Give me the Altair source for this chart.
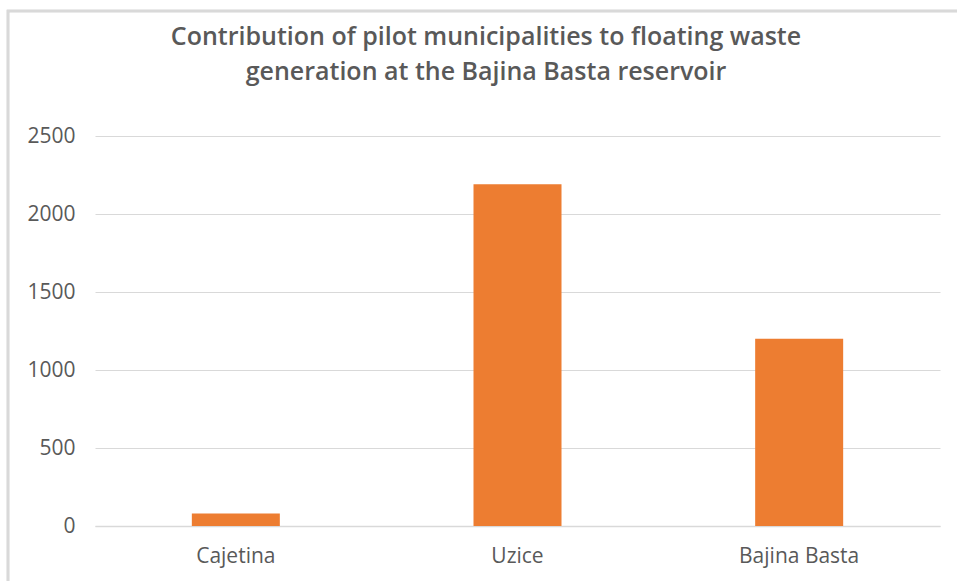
import altair as alt
import pandas as pd

categories = ["Cajetina", "Uzice", "Bajina Basta"]
values = [80, 2190, 1200]
title_lines = ["Contribution of pilot municipalities to floating waste",
               "generation at the Bajina Basta reservoir"]

df = pd.DataFrame({"municipality": categories, "waste": values})
tdf = pd.DataFrame({"line": title_lines, "order": [0, 1]})

FONT = "Open Sans"
GREY = "#595959"

bars = alt.Chart(df).mark_bar(color="#ED7D31", size=88).encode(
    x=alt.X("municipality:N", sort=categories, title=None,
            scale=alt.Scale(paddingInner=0, paddingOuter=0),
            axis=alt.Axis(labelAngle=0, labelFont=FONT, labelFontSize=21,
                          labelColor=GREY, labelPadding=19, ticks=False,
                          domain=True, domainColor="#D9D9D9", domainWidth=1.5,
                          grid=False)),
    y=alt.Y("waste:Q", title=None,
            scale=alt.Scale(domain=[0, 2500], nice=False),
            axis=alt.Axis(values=[0, 500, 1000, 1500, 2000, 2500], format="d",
                          labelFont=FONT, labelFontSize=21, labelColor=GREY,
                          labelPadding=20, ticks=False, domain=False,
                          gridColor="#D9D9D9", gridWidth=1.2)),
)

border = alt.Chart(df).mark_rect(fill=None, stroke="#D9D9D9", strokeWidth=2.5).encode(
    x=alt.value(-87), x2=alt.value(880),
    y=alt.value(-125), y2=alt.value(470),
)

title1 = alt.Chart(tdf).transform_filter("datum.order == 0").mark_text(
    font=FONT, fontSize=25, fontWeight=600, color=GREY, align="center", baseline="middle"
).encode(text="line:N", x=alt.value(391), y=alt.value(-99))

title2 = alt.Chart(tdf).transform_filter("datum.order == 1").mark_text(
    font=FONT, fontSize=25, fontWeight=600, color=GREY, align="center", baseline="middle"
).encode(text="line:N", x=alt.value(391), y=alt.value(-64))

chart = alt.layer(border, bars, title1, title2).properties(
    width=845, height=390,
    background="white",
    padding={"left": 95, "top": 136, "right": 17, "bottom": 55},
    autosize=alt.AutoSizeParams(type="none"),
).configure_view(stroke=None)

chart.save("out.html", embed_options={"renderer": "svg", "actions": False})
